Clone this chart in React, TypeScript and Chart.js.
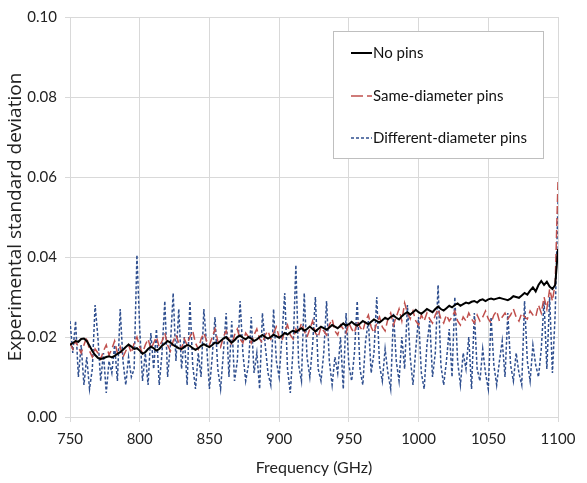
import React, { useEffect, useRef } from "react";
import { Chart, registerables } from "chart.js";

Chart.register(...registerables);

const FREQ_START = 750;
const FREQ_STEP = 2;

const NO_PINS = [
  0.0180, 0.0185, 0.0190, 0.0188, 0.0195, 0.0196, 0.0190, 0.0178, 0.0165, 0.0155,
  0.0148, 0.0145, 0.0147, 0.0150, 0.0152, 0.0149, 0.0153, 0.0158, 0.0162, 0.0168,
  0.0175, 0.0181, 0.0176, 0.0170, 0.0172, 0.0166, 0.0158, 0.0162, 0.0170, 0.0176,
  0.0172, 0.0166, 0.0170, 0.0178, 0.0184, 0.0190, 0.0186, 0.0180, 0.0176, 0.0172,
  0.0170, 0.0175, 0.0180, 0.0178, 0.0172, 0.0168, 0.0172, 0.0178, 0.0182, 0.0178,
  0.0175, 0.0180, 0.0186, 0.0184, 0.0190, 0.0196, 0.0200, 0.0192, 0.0186, 0.0192,
  0.0200, 0.0204, 0.0198, 0.0194, 0.0200, 0.0196, 0.0190, 0.0194, 0.0200, 0.0205,
  0.0200, 0.0196, 0.0200, 0.0206, 0.0202, 0.0198, 0.0204, 0.0210, 0.0206, 0.0212,
  0.0216, 0.0212, 0.0218, 0.0222, 0.0216, 0.0220, 0.0226, 0.0220, 0.0214, 0.0220,
  0.0226, 0.0222, 0.0218, 0.0224, 0.0230, 0.0226, 0.0222, 0.0228, 0.0234, 0.0228,
  0.0232, 0.0238, 0.0232, 0.0228, 0.0234, 0.0240, 0.0236, 0.0232, 0.0238, 0.0244,
  0.0240, 0.0236, 0.0242, 0.0248, 0.0244, 0.0250, 0.0254, 0.0248, 0.0244, 0.0252,
  0.0258, 0.0262, 0.0256, 0.0262, 0.0268, 0.0262, 0.0258, 0.0264, 0.0270, 0.0266,
  0.0262, 0.0270, 0.0276, 0.0270, 0.0266, 0.0272, 0.0278, 0.0274, 0.0280, 0.0284,
  0.0278, 0.0282, 0.0286, 0.0284, 0.0288, 0.0290, 0.0286, 0.0292, 0.0294, 0.0290,
  0.0294, 0.0296, 0.0294, 0.0296, 0.0298, 0.0296, 0.0294, 0.0292, 0.0296, 0.0302,
  0.0300, 0.0298, 0.0304, 0.0310, 0.0306, 0.0316, 0.0324, 0.0314, 0.0330, 0.0340,
  0.0330, 0.0338, 0.0326, 0.0320, 0.0330, 0.0420,
];

const SAME_DIAMETER = [
  0.0185, 0.0170, 0.0190, 0.0175, 0.0160, 0.0180, 0.0200, 0.0165, 0.0150, 0.0170,
  0.0160, 0.0145, 0.0165, 0.0180, 0.0155, 0.0170, 0.0190, 0.0160, 0.0175, 0.0150,
  0.0165, 0.0180, 0.0160, 0.0185, 0.0200, 0.0175, 0.0160, 0.0180, 0.0195, 0.0170,
  0.0185, 0.0200, 0.0175, 0.0190, 0.0210, 0.0180, 0.0165, 0.0190, 0.0205, 0.0185,
  0.0170, 0.0195, 0.0180, 0.0200, 0.0215, 0.0185, 0.0170, 0.0195, 0.0210, 0.0190,
  0.0180, 0.0200, 0.0220, 0.0190, 0.0175, 0.0200, 0.0215, 0.0195, 0.0180, 0.0205,
  0.0220, 0.0195, 0.0185, 0.0210, 0.0200, 0.0185, 0.0205, 0.0220, 0.0195, 0.0185,
  0.0205, 0.0215, 0.0195, 0.0210, 0.0225, 0.0200, 0.0190, 0.0215, 0.0230, 0.0205,
  0.0195, 0.0220, 0.0210, 0.0235, 0.0215, 0.0200, 0.0220, 0.0240, 0.0210, 0.0200,
  0.0225, 0.0215, 0.0205, 0.0230, 0.0245, 0.0215, 0.0205, 0.0230, 0.0220, 0.0210,
  0.0235, 0.0220, 0.0210, 0.0240, 0.0225, 0.0215, 0.0240, 0.0255, 0.0225, 0.0210,
  0.0235, 0.0250, 0.0225, 0.0215, 0.0245, 0.0260, 0.0230, 0.0250, 0.0270, 0.0240,
  0.0285, 0.0260, 0.0245, 0.0265, 0.0240, 0.0230, 0.0255, 0.0240, 0.0260, 0.0245,
  0.0235, 0.0255, 0.0270, 0.0245, 0.0235, 0.0255, 0.0240, 0.0250, 0.0265, 0.0240,
  0.0230, 0.0250, 0.0240, 0.0260, 0.0245, 0.0235, 0.0255, 0.0240, 0.0250, 0.0265,
  0.0245, 0.0235, 0.0255, 0.0265, 0.0240, 0.0250, 0.0260, 0.0245, 0.0255, 0.0270,
  0.0250, 0.0240, 0.0260, 0.0250, 0.0245, 0.0265, 0.0255, 0.0250, 0.0280, 0.0260,
  0.0300, 0.0270, 0.0320, 0.0290, 0.0335, 0.0590,
];

const DIFFERENT_DIAMETER = [
  0.024, 0.016, 0.024, 0.010, 0.018, 0.008, 0.015, 0.007, 0.012, 0.028,
  0.020, 0.009, 0.016, 0.006, 0.014, 0.011, 0.018, 0.009, 0.027, 0.014,
  0.008, 0.015, 0.010, 0.012, 0.0405, 0.022, 0.009, 0.016, 0.008, 0.021,
  0.012, 0.022, 0.008, 0.016, 0.029, 0.010, 0.018, 0.031, 0.014, 0.027,
  0.012, 0.020, 0.008, 0.029, 0.013, 0.007, 0.016, 0.010, 0.027, 0.018,
  0.007, 0.015, 0.025, 0.012, 0.007, 0.016, 0.026, 0.010, 0.024, 0.009,
  0.014, 0.029, 0.016, 0.009, 0.013, 0.025, 0.011, 0.016, 0.007, 0.026,
  0.018, 0.011, 0.008, 0.027, 0.014, 0.010, 0.020, 0.031, 0.012, 0.006,
  0.017, 0.038, 0.013, 0.009, 0.031, 0.015, 0.010, 0.018, 0.030, 0.012,
  0.009, 0.016, 0.029, 0.014, 0.008, 0.015, 0.011, 0.020, 0.007, 0.026,
  0.013, 0.009, 0.016, 0.029, 0.012, 0.008, 0.019, 0.024, 0.011, 0.016,
  0.030, 0.013, 0.009, 0.017, 0.011, 0.007, 0.026, 0.014, 0.009, 0.020,
  0.012, 0.028, 0.015, 0.008, 0.017, 0.025, 0.011, 0.007, 0.018, 0.024,
  0.010, 0.016, 0.033, 0.013, 0.008, 0.014, 0.022, 0.010, 0.030, 0.014,
  0.008, 0.016, 0.012, 0.020, 0.007, 0.026, 0.012, 0.009, 0.017, 0.011,
  0.007, 0.025, 0.013, 0.008, 0.014, 0.019, 0.010, 0.026, 0.013, 0.009,
  0.016, 0.011, 0.008, 0.029, 0.014, 0.009, 0.018, 0.013, 0.010, 0.017,
  0.029, 0.012, 0.030, 0.011, 0.026, 0.054,
];

const SERIES_LABELS = ["No pins", "Same-diameter pins", "Different-diameter pins"];
const X_TICKS = [750, 800, 850, 900, 950, 1000, 1050, 1100];
const Y_TICKS = [0, 0.02, 0.04, 0.06, 0.08, 0.1];

const FONT = "Lato, 'Liberation Sans', sans-serif";

const toPoints = (vals: number[]) =>
  vals.map((v, i) => ({ x: FREQ_START + i * FREQ_STEP, y: v }));

const boxLegend = {
  id: "boxLegend",
  afterDraw(chart: any) {
    const ctx = chart.ctx;
    const x0 = 333, y0 = 31, w = 210, h = 127;
    ctx.save();
    ctx.fillStyle = "#ffffff";
    ctx.fillRect(x0, y0, w, h);
    ctx.strokeStyle = "#bfbfbf";
    ctx.lineWidth = 1;
    ctx.strokeRect(x0 + 0.5, y0 + 0.5, w, h);
    const rows = [53, 96, 138];
    chart.data.datasets.forEach((ds: any, i: number) => {
      const y = rows[i];
      ctx.beginPath();
      ctx.strokeStyle = ds.borderColor;
      ctx.lineWidth = ds.borderWidth;
      ctx.setLineDash(ds.legendDash || []);
      ctx.moveTo(351, y);
      ctx.lineTo(372, y);
      ctx.stroke();
      ctx.setLineDash([]);
      ctx.fillStyle = "#111";
      ctx.font = `15px ${FONT}`;
      ctx.textBaseline = "middle";
      ctx.textAlign = "left";
      ctx.fillText(ds.label, 373, y);
    });
    ctx.restore();
  },
};

export default function App() {
  const ref = useRef<HTMLCanvasElement | null>(null);
  useEffect(() => {
    if (!ref.current) return;
    const chart = new Chart(ref.current, {
      type: "line",
      data: {
        datasets: [
          {
            label: SERIES_LABELS[0],
            data: toPoints(NO_PINS),
            borderColor: "#000000",
            borderWidth: 2,
            pointRadius: 0,
            tension: 0,
            legendDash: [],
          } as any,
          {
            label: SERIES_LABELS[1],
            data: toPoints(SAME_DIAMETER),
            borderColor: "#c0504d",
            borderWidth: 1.5,
            borderDash: [8, 4],
            pointRadius: 0,
            legendDash: [12, 4],
          } as any,
          {
            label: SERIES_LABELS[2],
            data: toPoints(DIFFERENT_DIAMETER),
            borderColor: "#2f4f8f",
            borderWidth: 1.5,
            borderDash: [3, 2],
            pointRadius: 0,
            legendDash: [3, 2],
          } as any,
        ],
      },
      options: {
        animation: false,
        responsive: false,
        layout: { padding: { left: 0, top: 11, right: 29, bottom: 0 } },
        plugins: { legend: { display: false }, tooltip: { enabled: false } },
        scales: {
          x: {
            type: "linear",
            min: 750,
            max: 1100,
            afterBuildTicks: (scale: any) => {
              scale.ticks = X_TICKS.map((v) => ({ value: v }));
            },
            afterFit: (scale: any) => {
              scale.height = 66;
            },
            grid: { color: "#d9d9d9", tickLength: 5, tickColor: "#d9d9d9" },
            border: { color: "#d9d9d9" },
            ticks: {
              color: "#222",
              padding: 8,
              maxRotation: 0,
              font: { family: FONT, size: 15 },
              callback: (v: any) => String(v),
            },
            title: {
              display: true,
              text: "Frequency (GHz)",
              color: "#222",
              font: { family: FONT, size: 16 },
              padding: { top: 0, bottom: 6 },
            },
          },
          y: {
            min: 0,
            max: 0.1,
            afterBuildTicks: (scale: any) => {
              scale.ticks = Y_TICKS.map((v) => ({ value: v }));
            },
            afterFit: (scale: any) => {
              scale.width = 70;
            },
            grid: { color: "#d9d9d9", tickLength: 5, tickColor: "#d9d9d9" },
            border: { color: "#d9d9d9" },
            ticks: {
              color: "#222",
              padding: 8,
              font: { family: FONT, size: 15 },
              callback: (v: any) => Number(v).toFixed(2),
            },
            title: {
              display: true,
              text: "Experimental standard deviation",
              color: "#222",
              font: { family: "'Open Sans', sans-serif", size: 19 },
              padding: { top: 4, bottom: 0 },
            },
          },
        },
      },
      plugins: [boxLegend],
    });
    return () => chart.destroy();
  }, []);
  return (
    <div style={{ position: "fixed", left: 0, top: 0, width: 587, height: 483, background: "#fff" }}>
      <canvas ref={ref} width={587} height={483} />
    </div>
  );
}
